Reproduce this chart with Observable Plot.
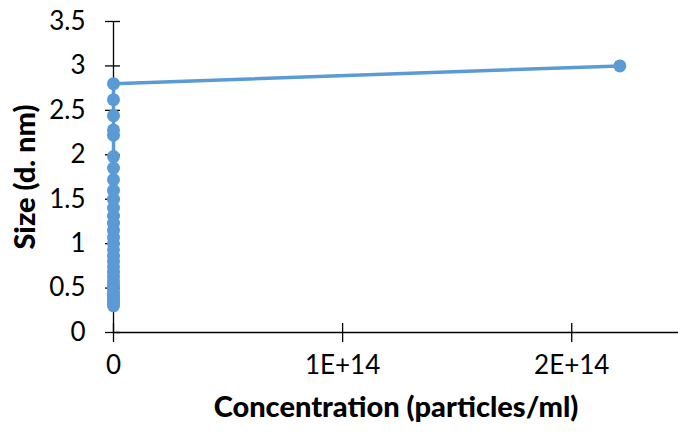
<!DOCTYPE html>
<html>
<head>
<meta charset="utf-8">
<script src="https://cdn.jsdelivr.net/npm/d3@7"></script>
<script src="https://cdn.jsdelivr.net/npm/@observablehq/plot@0.6"></script>
<style>
  html, body { margin: 0; padding: 0; background: #fff; }
  #chart { width: 678px; height: 436px; }
</style>
</head>
<body>
<div id="chart"></div>
<script>
// Size (d. nm) vs concentration (particles/ml)
const concentration = [0,0,0,0,0,0,0,0,0,0,0,0,0,0,0,0,0,0,0,0,0,0,0,0,0,0,0,0,0,0,0,2.21e14];
const size = [0.3,0.33,0.36,0.39,0.42,0.46,0.5,0.54,0.58,0.63,0.68,0.74,0.8,0.86,0.93,1.0,1.07,1.15,1.23,1.31,1.4,1.5,1.6,1.72,1.85,1.98,2.22,2.28,2.44,2.62,2.8,3.0];
const xTicks = [0, 1e14, 2e14];
const xTickLabels = ["0", "1E+14", "2E+14"];
const yTicks = [0, 0.5, 1, 1.5, 2, 2.5, 3, 3.5];
const yTickLabels = ["0", "0.5", "1", "1.5", "2", "2.5", "3", "3.5"];
const xTitle = "Concentration (particles/ml)";
const yTitle = "Size (d. nm)";

const data = concentration.map((c, i) => ({c, s: size[i]}));
const color = "#5B9BD5";
const font = "Lato, 'Open Sans', sans-serif";

const chart = Plot.plot({
  width: 678,
  height: 436,
  marginLeft: 113,
  marginRight: 0,
  marginTop: 21,
  marginBottom: 104,
  style: {fontFamily: font, color: "#000", background: "#fff", overflow: "visible"},
  x: {domain: [0, 2.466e14], axis: null},
  y: {domain: [0, 3.5], axis: null},
  marks: [
    Plot.ruleY([0], {stroke: "#000", strokeWidth: 1.3}),
    Plot.ruleX([0], {stroke: "#000", strokeWidth: 1.3}),
    Plot.axisY({
      ticks: yTicks, tickSize: 15, dx: 7, tickPadding: 20,
      tickFormat: (d) => yTickLabels[yTicks.indexOf(d)],
      fontSize: 26, stroke: "#000", strokeWidth: 1.3, label: null
    }),
    Plot.axisX({
      ticks: xTicks, tickSize: 19, dy: -9, tickPadding: 13,
      tickFormat: (d) => xTickLabels[xTicks.indexOf(d)],
      fontSize: 26, stroke: "#000", strokeWidth: 1.3, label: null
    }),
    Plot.line(data, {x: "c", y: "s", stroke: color, strokeWidth: 3.5}),
    Plot.dot(data, {x: "c", y: "s", r: 6.5, fill: color}),
    Plot.text([xTitle], {frameAnchor: "bottom", dy: 84, fontSize: 29, fontWeight: 900, fill: "#000", textAnchor: "middle"}),
    Plot.text([yTitle], {frameAnchor: "left", dx: -88, rotate: -90, fontSize: 29, fontWeight: 900, fill: "#000", textAnchor: "middle"})
  ]
});
document.getElementById("chart").appendChild(chart);
</script>
</body>
</html>
